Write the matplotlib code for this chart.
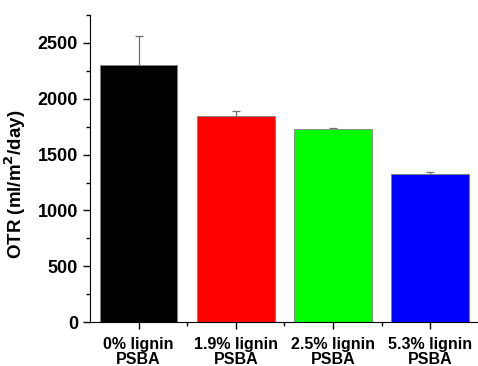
import matplotlib.pyplot as plt
from matplotlib.ticker import MultipleLocator, FixedLocator

plt.rcParams['font.family'] = ['Liberation Sans', 'DejaVu Sans']
plt.rcParams['font.weight'] = 'bold'

# OTR of PSBA films with increasing lignin content
labels = ["0% lignin\nPSBA", "1.9% lignin\nPSBA", "2.5% lignin\nPSBA", "5.3% lignin\nPSBA"]
otr = [2305, 1850, 1725, 1330]
otr_err = [260, 42, 15, 15]
colors = ["#000000", "#ff0000", "#00ff00", "#0000ff"]

fig = plt.figure(figsize=(4.78, 3.66), dpi=100)
ax = fig.add_axes([0.188, 0.12, 0.81, 0.839])

x = list(range(len(labels)))
# error bars sit behind the bars so only the upper whisker shows
ax.errorbar(x, otr, yerr=otr_err, fmt="none", ecolor="#707070",
            elinewidth=0.9, capsize=3, capthick=0.9, zorder=1)
ax.bar(x, otr, width=0.8, color=colors, edgecolor="#808080", linewidth=0.6, zorder=2)

ax.set_xlim(-0.5, 3.48)
ax.set_ylim(0, 2750)
ax.set_xticks(x)
ax.set_xticklabels(labels, fontsize=11.5, fontweight='bold', linespacing=1.0)
ax.xaxis.set_minor_locator(FixedLocator([0.5, 1.5, 2.5]))
ax.yaxis.set_major_locator(MultipleLocator(500))
ax.yaxis.set_minor_locator(MultipleLocator(250))
ax.tick_params(axis='both', which='major', length=5, width=1)
ax.tick_params(axis='both', which='minor', length=3, width=1)
ax.tick_params(axis='x', pad=6)
ax.tick_params(axis='y', labelsize=13)
for t in ax.get_yticklabels():
    t.set_fontweight('bold')

ax.set_ylabel("OTR (ml/m$^\\mathbf{2}$/day)", fontsize=13.5, fontweight='bold')
ax.yaxis.set_label_coords(-0.16, 0.45)

ax.spines['top'].set_visible(False)
ax.spines['right'].set_visible(False)

fig.savefig("out.png", dpi=100)
